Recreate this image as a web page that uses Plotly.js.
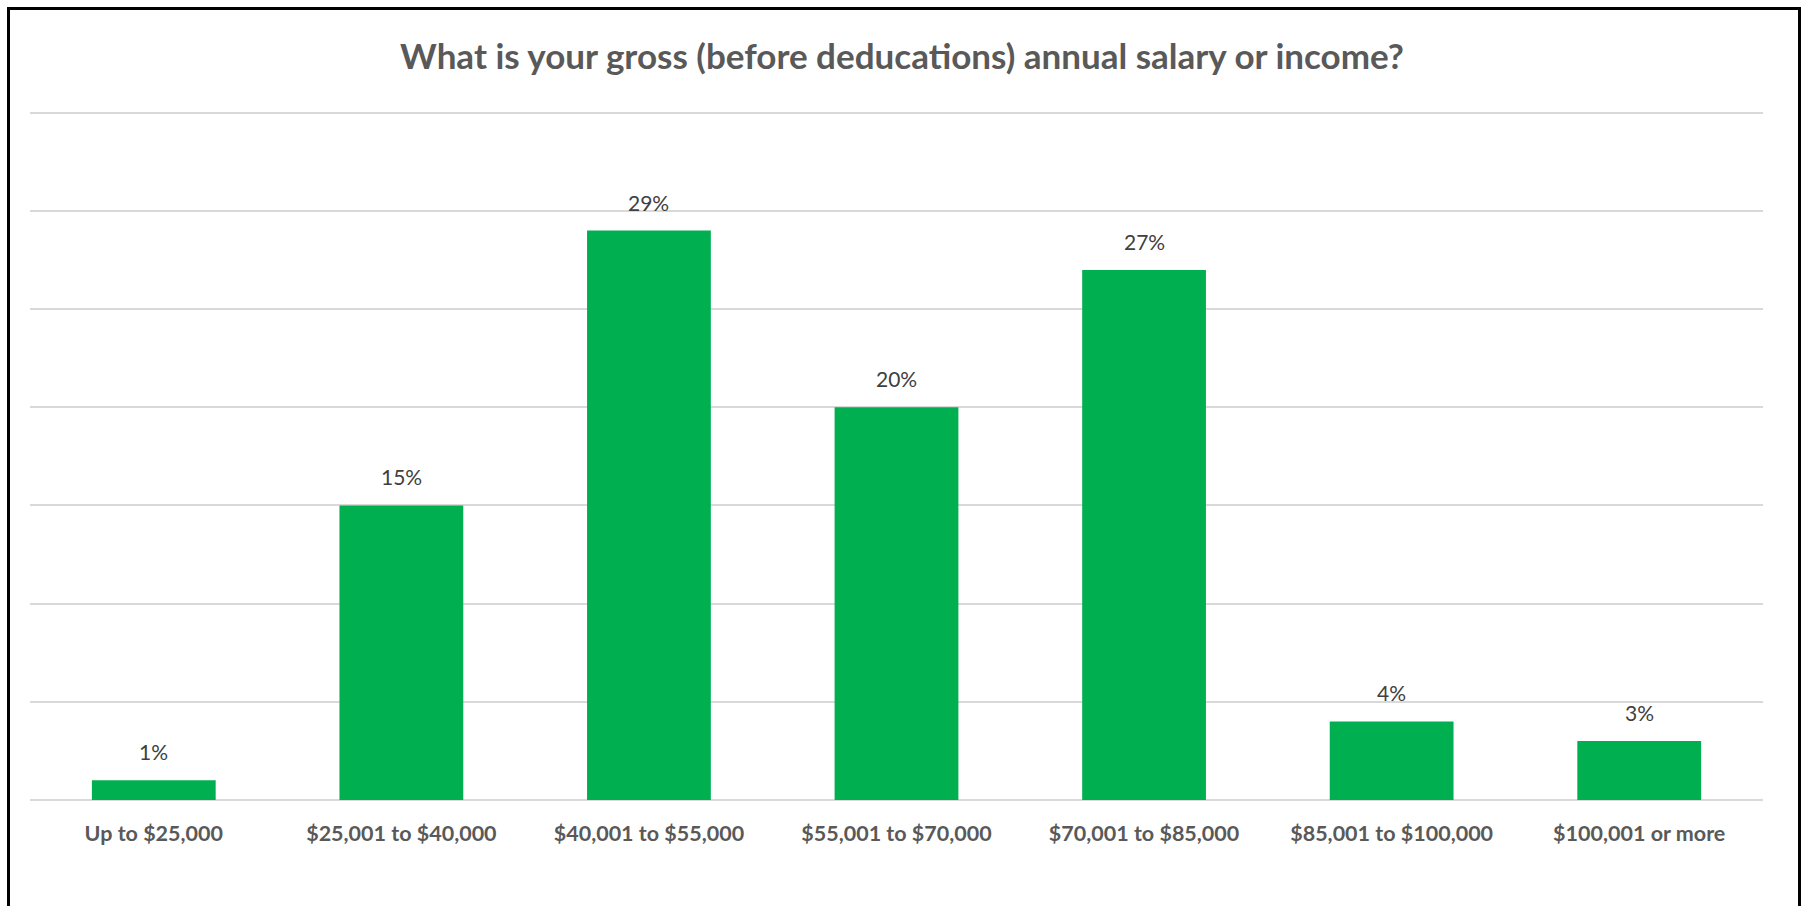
<!DOCTYPE html>
<html>
<head>
<meta charset="utf-8">
<script src="https://cdn.plot.ly/plotly-3.0.1.min.js"></script>
<style>
  html, body { margin: 0; padding: 0; width: 1804px; height: 906px; overflow: hidden; background: #fff; }
  #chart { position: absolute; left: 0; top: 0; width: 1804px; height: 906px; }
  #frame { position: absolute; left: 7px; top: 7px; width: 1788px; height: 960px; border: 3px solid #000; pointer-events: none; }
</style>
</head>
<body>
<div id="chart"></div>
<div id="frame"></div>
<script>
const categories = ["Up to $25,000", "$25,001 to $40,000", "$40,001 to $55,000", "$55,001 to $70,000", "$70,001 to $85,000", "$85,001 to $100,000", "$100,001 or more"];
const percentValues = [1, 15, 29, 20, 27, 4, 3];
const valueLabels = ["1%", "15%", "29%", "20%", "27%", "4%", "3%"];
const chartTitle = "What is your gross (before deducations) annual salary or income?";

const trace = {
  type: "bar",
  x: categories,
  y: percentValues,
  marker: { color: "#00B050" },
  hoverinfo: "x+y"
};

const annotations = categories.map((c, i) => ({
  x: c,
  y: percentValues[i],
  xref: "x",
  yref: "y",
  text: valueLabels[i],
  showarrow: false,
  yanchor: "bottom",
  yshift: 14,
  font: { family: "Lato, 'Open Sans', sans-serif", size: 21, color: "#404040" }
}));

const layout = {
  width: 1804,
  height: 906,
  margin: { l: 30, r: 41, t: 103, b: 106 },
  paper_bgcolor: "#ffffff",
  plot_bgcolor: "#ffffff",
  showlegend: false,
  bargap: 0.5,
  title: {
    text: "<b>" + chartTitle + "</b>",
    x: 0.5,
    xref: "container",
    xanchor: "center",
    y: 1 - 57 / 906,
    yref: "container",
    yanchor: "middle",
    font: { family: "Lato, 'Open Sans', sans-serif", size: 35, color: "#595959" }
  },
  xaxis: {
    type: "category",
    showgrid: false,
    showline: false,
    zeroline: false,
    ticks: "",
    ticklabelstandoff: 18,
    tickfont: { family: "Lato, 'Open Sans', sans-serif", size: 21.5, color: "#595959", weight: "bold" }
  },
  yaxis: {
    range: [0, 35.5],
    dtick: 5,
    showticklabels: false,
    showgrid: true,
    gridcolor: "#d9d9d9",
    gridwidth: 2,
    zeroline: true,
    zerolinecolor: "#d9d9d9",
    zerolinewidth: 2,
    showline: false,
    ticks: "",
    fixedrange: true
  },
  annotations: annotations
};

Plotly.newPlot("chart", [trace], layout, { displayModeBar: false, staticPlot: true });
</script>
</body>
</html>
